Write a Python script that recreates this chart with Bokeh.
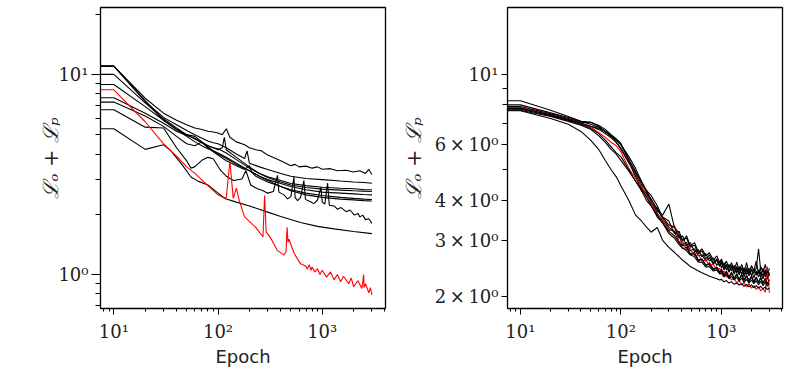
from bokeh.plotting import figure
from bokeh.layouts import row
from bokeh.models import FixedTicker
from bokeh.embed import file_html
from bokeh.resources import INLINE

# ---------------- Left panel data ----------------
L_B1_X = [5, 10, 20, 30, 40, 50, 60, 70, 80, 90, 100, 110, 120, 130, 150, 180, 200, 230, 260, 300,
          400, 500, 550, 600, 700, 800, 900, 1000, 1200, 1400, 1700, 2000, 2300, 2600, 2800, 3000]
L_B1_Y = [11.0, 11.0, 7.6, 6.4, 5.9, 5.6, 5.4, 5.3, 5.2, 5.15, 5.1, 5.0, 5.35, 4.85, 4.6, 4.45, 4.3, 4.2, 4.15, 3.95,
          3.7, 3.5, 3.55, 3.45, 3.48, 3.4, 3.45, 3.36, 3.38, 3.3, 3.32, 3.25, 3.3, 3.2, 3.35, 3.16]

L_B2_X = [5, 10, 20, 30, 40, 50, 60, 70, 80, 90, 100, 120, 150, 180, 190, 200, 250, 300, 400, 500,
          700, 1000, 1500, 2000, 2500, 3000]
L_B2_Y = [11.0, 11.0, 7.3, 6.1, 5.6, 5.25, 5.0, 4.8, 4.65, 4.55, 4.5, 4.3, 4.0, 3.8, 4.15, 3.6, 3.45, 3.35, 3.2, 3.1,
          3.02, 2.98, 2.93, 2.9, 2.88, 2.86]

L_B3_X = [5, 10, 20, 30, 40, 50, 60, 70, 80, 90, 100, 120, 150, 200, 250, 300, 400, 500, 700, 1000,
          1500, 2000, 2500, 3000]
L_B3_Y = [10.0, 10.0, 7.2, 6.0, 5.4, 5.0, 4.75, 4.55, 4.4, 4.3, 4.25, 4.05, 3.75, 3.4, 3.2, 3.08, 2.95, 2.85, 2.78, 2.73,
          2.7, 2.68, 2.66, 2.65]

L_B4_X = [5, 10, 20, 30, 40, 50, 60, 70, 80, 90, 100, 110, 115, 120, 150, 200, 250, 300, 400, 500,
          700, 1000, 1500, 2000, 2500, 3000]
L_B4_Y = [8.91, 8.91, 6.9, 5.9, 5.3, 5.0, 4.9, 4.6, 4.4, 4.3, 4.2, 4.3, 4.85, 4.2, 3.85, 3.45, 3.2, 3.05, 2.9, 2.8,
          2.72, 2.67, 2.64, 2.62, 2.61, 2.60]

L_B5_X = [5, 10, 20, 30, 40, 50, 60, 70, 80, 90, 100, 120, 150, 200, 250, 300, 400, 500, 700, 1000,
          1500, 2000, 2500, 3000]
L_B5_Y = [7.65, 7.65, 6.4, 5.7, 5.2, 4.95, 4.8, 4.55, 4.35, 4.15, 4.0, 3.8, 3.55, 3.3, 3.1, 2.98, 2.85, 2.75, 2.65, 2.58,
          2.55, 2.53, 2.51, 2.50]

L_B6_X = [5, 10, 20, 30, 40, 50, 60, 70, 80, 90, 100, 120, 150, 180, 200, 210, 230, 300, 400, 500,
          700, 1000, 1500, 2000, 2500, 3000]
L_B6_Y = [7.27, 7.27, 6.2, 5.5, 4.9, 4.5, 4.4, 4.6, 4.3, 4.1, 3.95, 3.7, 3.5, 3.35, 3.5, 3.25, 3.1, 2.9, 2.75, 2.65,
          2.55, 2.48, 2.43, 2.4, 2.38, 2.37]

L_B9_X = [5, 10, 20, 30, 40, 50, 60, 70, 80, 90, 100, 120, 150, 200, 250, 300, 400, 500, 700, 1000,
          1500, 2000, 2500, 3000]
L_B9_Y = [11.0, 11.0, 7.4, 5.9, 5.3, 4.9, 4.6, 4.4, 4.25, 4.15, 4.05, 3.85, 3.6, 3.3, 3.1, 2.95, 2.75, 2.62, 2.5, 2.43,
          2.38, 2.36, 2.34, 2.33]

L_B7_X = [5, 10, 20, 30, 40, 50, 55, 60, 70, 80, 90, 106, 120, 141, 170, 185, 206, 239, 268, 300,
          340, 372, 384, 430, 465, 500, 535, 550, 580, 620, 667, 690, 724, 780, 832, 900, 972, 1000, 1060, 1127,
          1169, 1300, 1400, 1514, 1700, 1850, 2040, 2200, 2300, 2450, 2600, 2800, 3000]
L_B7_Y = [6.66, 6.66, 5.45, 5.4, 4.3, 3.7, 3.4, 3.46, 3.72, 3.85, 3.79, 3.31, 3.1, 2.95, 3.0, 3.31, 2.80, 2.68, 2.63, 2.55,
          2.6, 3.13, 2.58, 2.5, 2.39, 2.45, 3.07, 2.42, 2.34, 2.42, 2.95, 2.38, 2.34, 2.3, 2.26, 2.35, 2.73, 2.3, 2.25, 2.86,
          2.22, 2.2, 2.12, 2.16, 2.06, 2.1, 1.98, 2.02, 1.94, 1.98, 1.88, 1.9, 1.80]

L_B8_X = [5, 10, 20, 30, 35, 45, 55, 65, 80, 100, 118, 150, 200, 300, 400, 620, 900, 1300, 2000, 3000]
L_B8_Y = [5.35, 5.35, 4.22, 4.45, 4.17, 3.55, 3.07, 2.92, 2.8, 2.55, 2.39, 2.3, 2.2, 2.05, 1.95, 1.82, 1.74, 1.69, 1.64, 1.60]

L_RED_X = [5, 10, 20, 30, 40, 50, 60, 80, 100, 115, 120, 130, 140, 150, 160, 180, 230, 270, 280, 290,
           300, 330, 370, 430, 450, 460, 470, 480, 540, 620, 700, 720, 750, 780, 800, 850, 900, 950, 1000, 1100,
           1200, 1300, 1400, 1500, 1600, 1800, 1900, 2000, 2200, 2400, 2500, 2520, 2600, 2800, 2900, 3000]
L_RED_Y = [8.38, 8.38, 5.8, 4.5, 3.9, 3.45, 3.2, 2.78, 2.5, 2.41, 2.42, 3.68, 2.4, 2.7, 2.34, 1.94, 1.72, 1.54, 2.48, 1.62,
           1.60, 1.48, 1.32, 1.25, 1.3, 1.72, 1.45, 1.5, 1.27, 1.13, 1.1, 1.06, 1.12, 1.05, 1.09, 1.03, 1.07, 1.0, 1.05, 0.97,
           1.03, 0.94, 1.0, 0.92, 0.98, 0.9, 0.96, 0.87, 0.93, 0.85, 1.0, 0.86, 0.9, 0.81, 0.86, 0.79]

LEFT_BLACK = [(L_B1_X, L_B1_Y), (L_B2_X, L_B2_Y), (L_B3_X, L_B3_Y), (L_B4_X, L_B4_Y), (L_B5_X, L_B5_Y),
              (L_B6_X, L_B6_Y), (L_B9_X, L_B9_Y), (L_B7_X, L_B7_Y), (L_B8_X, L_B8_Y)]

# ---------------- Right panel data ----------------
R_X = [5, 10, 20, 30, 40, 50, 60, 70, 80, 90, 100, 120, 140, 160, 180, 200, 230, 260, 300, 340,
       380, 410, 450, 490, 540, 590, 640, 700, 760, 830, 900, 960,
       1000, 1060, 1120, 1190, 1260, 1340, 1420, 1500, 1590, 1680, 1780, 1880, 1990, 2100, 2220, 2340, 2460, 2590,
       2730, 2860, 3000]
R_K1 = [8.24, 8.24, 7.7, 7.35, 7.1, 6.95, 6.8, 6.6, 6.35, 6.2, 6.0, 5.4, 4.9, 4.6, 4.3, 4.15, 3.85, 3.55, 3.45, 3.15,
        3.2, 2.98, 3.1, 2.88, 2.95, 2.75, 2.82, 2.68, 2.74, 2.6, 2.68, 2.55,
        2.62, 2.48, 2.58, 2.45, 2.55, 2.42, 2.56, 2.4, 2.52, 2.38, 2.55, 2.36, 2.5, 2.4, 2.58, 2.35, 2.48, 2.38,
        2.52, 2.34, 2.45]
R_K2 = [8.0, 8.0, 7.55, 7.3, 7.1, 7.05, 6.85, 6.6, 6.4, 6.1, 5.85, 5.3, 4.75, 4.3, 4.2, 3.9, 3.8, 3.5, 3.3, 3.2,
        3.1, 2.9, 2.95, 2.78, 2.82, 2.68, 2.7, 2.58, 2.65, 2.52, 2.6, 2.48,
        2.55, 2.42, 2.5, 2.38, 2.48, 2.35, 2.45, 2.33, 2.46, 2.3, 2.42, 2.32, 2.44, 2.28, 2.4, 2.3, 2.38, 2.27,
        2.4, 2.26, 2.35]
R_K3 = [7.9, 7.9, 7.5, 7.25, 7.05, 7.05, 6.9, 6.7, 6.45, 6.25, 6.05, 5.35, 4.95, 4.5, 4.3, 4.0, 3.7, 3.6, 3.9, 3.3,
        3.15, 3.0, 3.05, 2.85, 2.9, 2.72, 2.78, 2.62, 2.7, 2.55, 2.62, 2.5,
        2.58, 2.44, 2.52, 2.4, 2.5, 2.38, 2.48, 2.36, 2.45, 2.34, 2.46, 2.33, 2.42, 2.36, 2.45, 2.82, 2.4, 2.32,
        2.42, 2.3, 2.38]
R_K4 = [7.85, 7.85, 7.45, 7.2, 7.0, 6.85, 6.7, 6.5, 6.3, 6.1, 5.8, 5.25, 4.85, 4.4, 4.2, 3.95, 3.65, 3.45, 3.25, 3.2,
        2.95, 2.88, 2.9, 2.72, 2.75, 2.6, 2.62, 2.5, 2.55, 2.44, 2.47, 2.38,
        2.44, 2.33, 2.4, 2.3, 2.38, 2.28, 2.36, 2.26, 2.35, 2.25, 2.33, 2.24, 2.32, 2.22, 2.3, 2.21, 2.3, 2.2,
        2.28, 2.19, 2.26]
R_K5 = [7.8, 7.8, 7.45, 7.2, 7.0, 6.85, 6.75, 6.6, 6.4, 6.2, 6.0, 5.5, 5.05, 4.6, 4.25, 4.05, 3.75, 3.55, 3.35, 3.3,
        3.05, 3.1, 2.88, 2.95, 2.76, 2.8, 2.66, 2.72, 2.58, 2.64, 2.5, 2.58,
        2.46, 2.55, 2.42, 2.52, 2.4, 2.5, 2.37, 2.48, 2.35, 2.46, 2.34, 2.45, 2.32, 2.44, 2.33, 2.42, 2.3, 2.45,
        2.3, 2.4, 2.32]
R_K6 = [7.75, 7.75, 7.4, 7.15, 6.95, 6.75, 6.5, 6.2, 5.9, 5.65, 5.5, 5.0, 4.6, 4.35, 4.1, 3.85, 3.6, 3.4, 3.2, 3.1,
        2.95, 2.82, 2.85, 2.7, 2.72, 2.58, 2.62, 2.5, 2.52, 2.42, 2.46, 2.36,
        2.42, 2.32, 2.38, 2.29, 2.36, 2.27, 2.34, 2.25, 2.33, 2.24, 2.31, 2.22, 2.3, 2.21, 2.29, 2.2, 2.28, 2.19,
        2.27, 2.18, 2.25]
R_K7 = [7.7, 7.7, 7.35, 7.1, 6.9, 6.7, 6.4, 6.1, 5.8, 5.6, 5.35, 4.95, 4.6, 4.3, 4.0, 3.85, 3.55, 3.4, 3.15, 3.05,
        2.9, 2.84, 2.78, 2.7, 2.66, 2.56, 2.56, 2.47, 2.48, 2.4, 2.42, 2.35,
        2.36, 2.3, 2.34, 2.27, 2.31, 2.25, 2.3, 2.23, 2.28, 2.21, 2.26, 2.2, 2.25, 2.19, 2.24, 2.17, 2.23, 2.16,
        2.22, 2.15, 2.2]
R_K8 = [7.67, 7.67, 7.25, 6.95, 6.6, 6.2, 5.8, 5.35, 5.0, 4.75, 4.45, 4.0, 3.6, 3.45, 3.3, 3.18, 3.29, 3.0, 2.85, 2.75,
        2.66, 2.6, 2.54, 2.48, 2.44, 2.4, 2.37, 2.34, 2.31, 2.29, 2.27, 2.25,
        2.26, 2.22, 2.24, 2.2, 2.22, 2.18, 2.2, 2.17, 2.19, 2.15, 2.18, 2.14, 2.17, 2.13, 2.16, 2.12, 2.15, 2.11,
        2.14, 2.1, 2.12]
R_RED = [7.85, 7.85, 7.45, 7.2, 7.0, 6.8, 6.55, 6.32, 6.1, 5.95, 5.7, 5.05, 4.7, 4.45, 4.15, 3.95, 3.6, 3.5, 3.2, 3.35,
         2.95, 2.98, 2.8, 2.82, 2.68, 2.7, 2.58, 2.6, 2.5, 2.52, 2.42, 2.45,
         2.36, 2.4, 2.3, 2.33, 2.25, 2.28, 2.2, 2.24, 2.17, 2.21, 2.14, 2.19, 2.12, 2.16, 2.1, 2.14, 2.08, 2.12,
         2.06, 2.48, 2.05]

RIGHT_BLACK_A = [R_K1, R_K2, R_K3, R_K4]
RIGHT_BLACK_B = [R_K5, R_K6, R_K7, R_K8]

# ---------------- Ticks ----------------
X_TICKS = [10, 100, 1000]
X_MINOR = [8, 9, 20, 30, 40, 50, 60, 70, 80, 90, 200, 300, 400, 500, 600, 700, 800, 900, 2000, 3000, 4000]
X_LABELS = {10: "10\u00b9", 100: "10\u00b2", 1000: "10\u00b3"}

LY_TICKS = [1, 10]
LY_MINOR = [0.7, 0.8, 0.9, 2, 3, 4, 5, 6, 7, 8, 9, 20]
LY_LABELS = {1: "10\u2070", 10: "10\u00b9"}

RY_TICKS = [2, 3, 4, 6, 10]
RY_MINOR = [5, 7, 8, 9]
RY_LABELS = {2: "2\u2009\u00d7\u200910\u2070", 3: "3\u2009\u00d7\u200910\u2070", 4: "4\u2009\u00d7\u200910\u2070",
             6: "6\u2009\u00d7\u200910\u2070", 10: "10\u00b9"}

X_RANGE = (7.45, 4050)
LY_RANGE = (0.676, 21.6)
RY_RANGE = (1.83, 16.2)

FIG_H = 380


def make_fig(width, bl, br, y_range, yticks, yminor, ylabels, ytick_major_out, ylabel_standoff):
    p = figure(width=width, height=FIG_H, x_axis_type="log", y_axis_type="log",
               x_range=X_RANGE, y_range=y_range, output_backend="svg", toolbar_location=None,
               min_border_left=bl, min_border_right=br, min_border_top=7, min_border_bottom=72)
    p.grid.visible = False
    p.background_fill_color = "white"
    p.border_fill_color = "white"
    p.outline_line_color = "black"
    p.outline_line_alpha = 1.0
    p.outline_line_width = 1.3

    p.xaxis.ticker = FixedTicker(ticks=X_TICKS, minor_ticks=X_MINOR)
    p.xaxis.major_label_overrides = X_LABELS
    p.yaxis.ticker = FixedTicker(ticks=yticks, minor_ticks=yminor)
    p.yaxis.major_label_overrides = ylabels

    for ax in (p.xaxis[0], p.yaxis[0]):
        ax.axis_line_color = None
        ax.major_tick_line_color = "black"
        ax.minor_tick_line_color = "black"
        ax.major_tick_line_width = 1
        ax.minor_tick_line_width = 1
        ax.major_tick_in = 0
        ax.minor_tick_in = 0
        ax.major_label_text_font = "DejaVu Serif"
        ax.major_label_text_font_size = "18px"
        ax.major_label_text_color = "#222222"
        ax.axis_label_text_color = "#222222"

    p.xaxis.major_tick_out = 6
    p.xaxis.minor_tick_out = 3
    p.xaxis.major_label_standoff = 6
    p.xaxis.axis_label = "Epoch"
    p.xaxis.axis_label_text_font = "DejaVu Sans"
    p.xaxis.axis_label_text_font_size = "18px"
    p.xaxis.axis_label_text_font_style = "normal"
    p.xaxis.axis_label_standoff = 1

    p.yaxis.major_tick_out = ytick_major_out
    p.yaxis.minor_tick_out = 5
    p.yaxis.major_label_standoff = 3
    p.yaxis.axis_label = "\u2112\u2092 + \u2112\u209a"
    p.yaxis.axis_label_text_font = "DejaVu Serif"
    p.yaxis.axis_label_text_font_size = "21px"
    p.yaxis.axis_label_text_font_style = "italic"
    p.yaxis.axis_label_standoff = ylabel_standoff
    return p


left = make_fig(398, 100, 13, LY_RANGE, LY_TICKS, LY_MINOR, LY_LABELS, 9, -8)
for xs, ys in LEFT_BLACK:
    left.line(xs, ys, line_color="black", line_width=1.1)
left.line(L_RED_X, L_RED_Y, line_color="red", line_width=1.1)

right = make_fig(392, 100, 8, RY_RANGE, RY_TICKS, RY_MINOR, RY_LABELS, 6, 6)
for ys in RIGHT_BLACK_A:
    right.line(R_X, ys, line_color="black", line_width=1.1)
right.line(R_X, R_RED, line_color="red", line_width=1.1)
for ys in RIGHT_BLACK_B:
    right.line(R_X, ys, line_color="black", line_width=1.1)

layout = row(left, right)

with open("out.html", "w") as f:
    f.write(file_html(layout, INLINE))
